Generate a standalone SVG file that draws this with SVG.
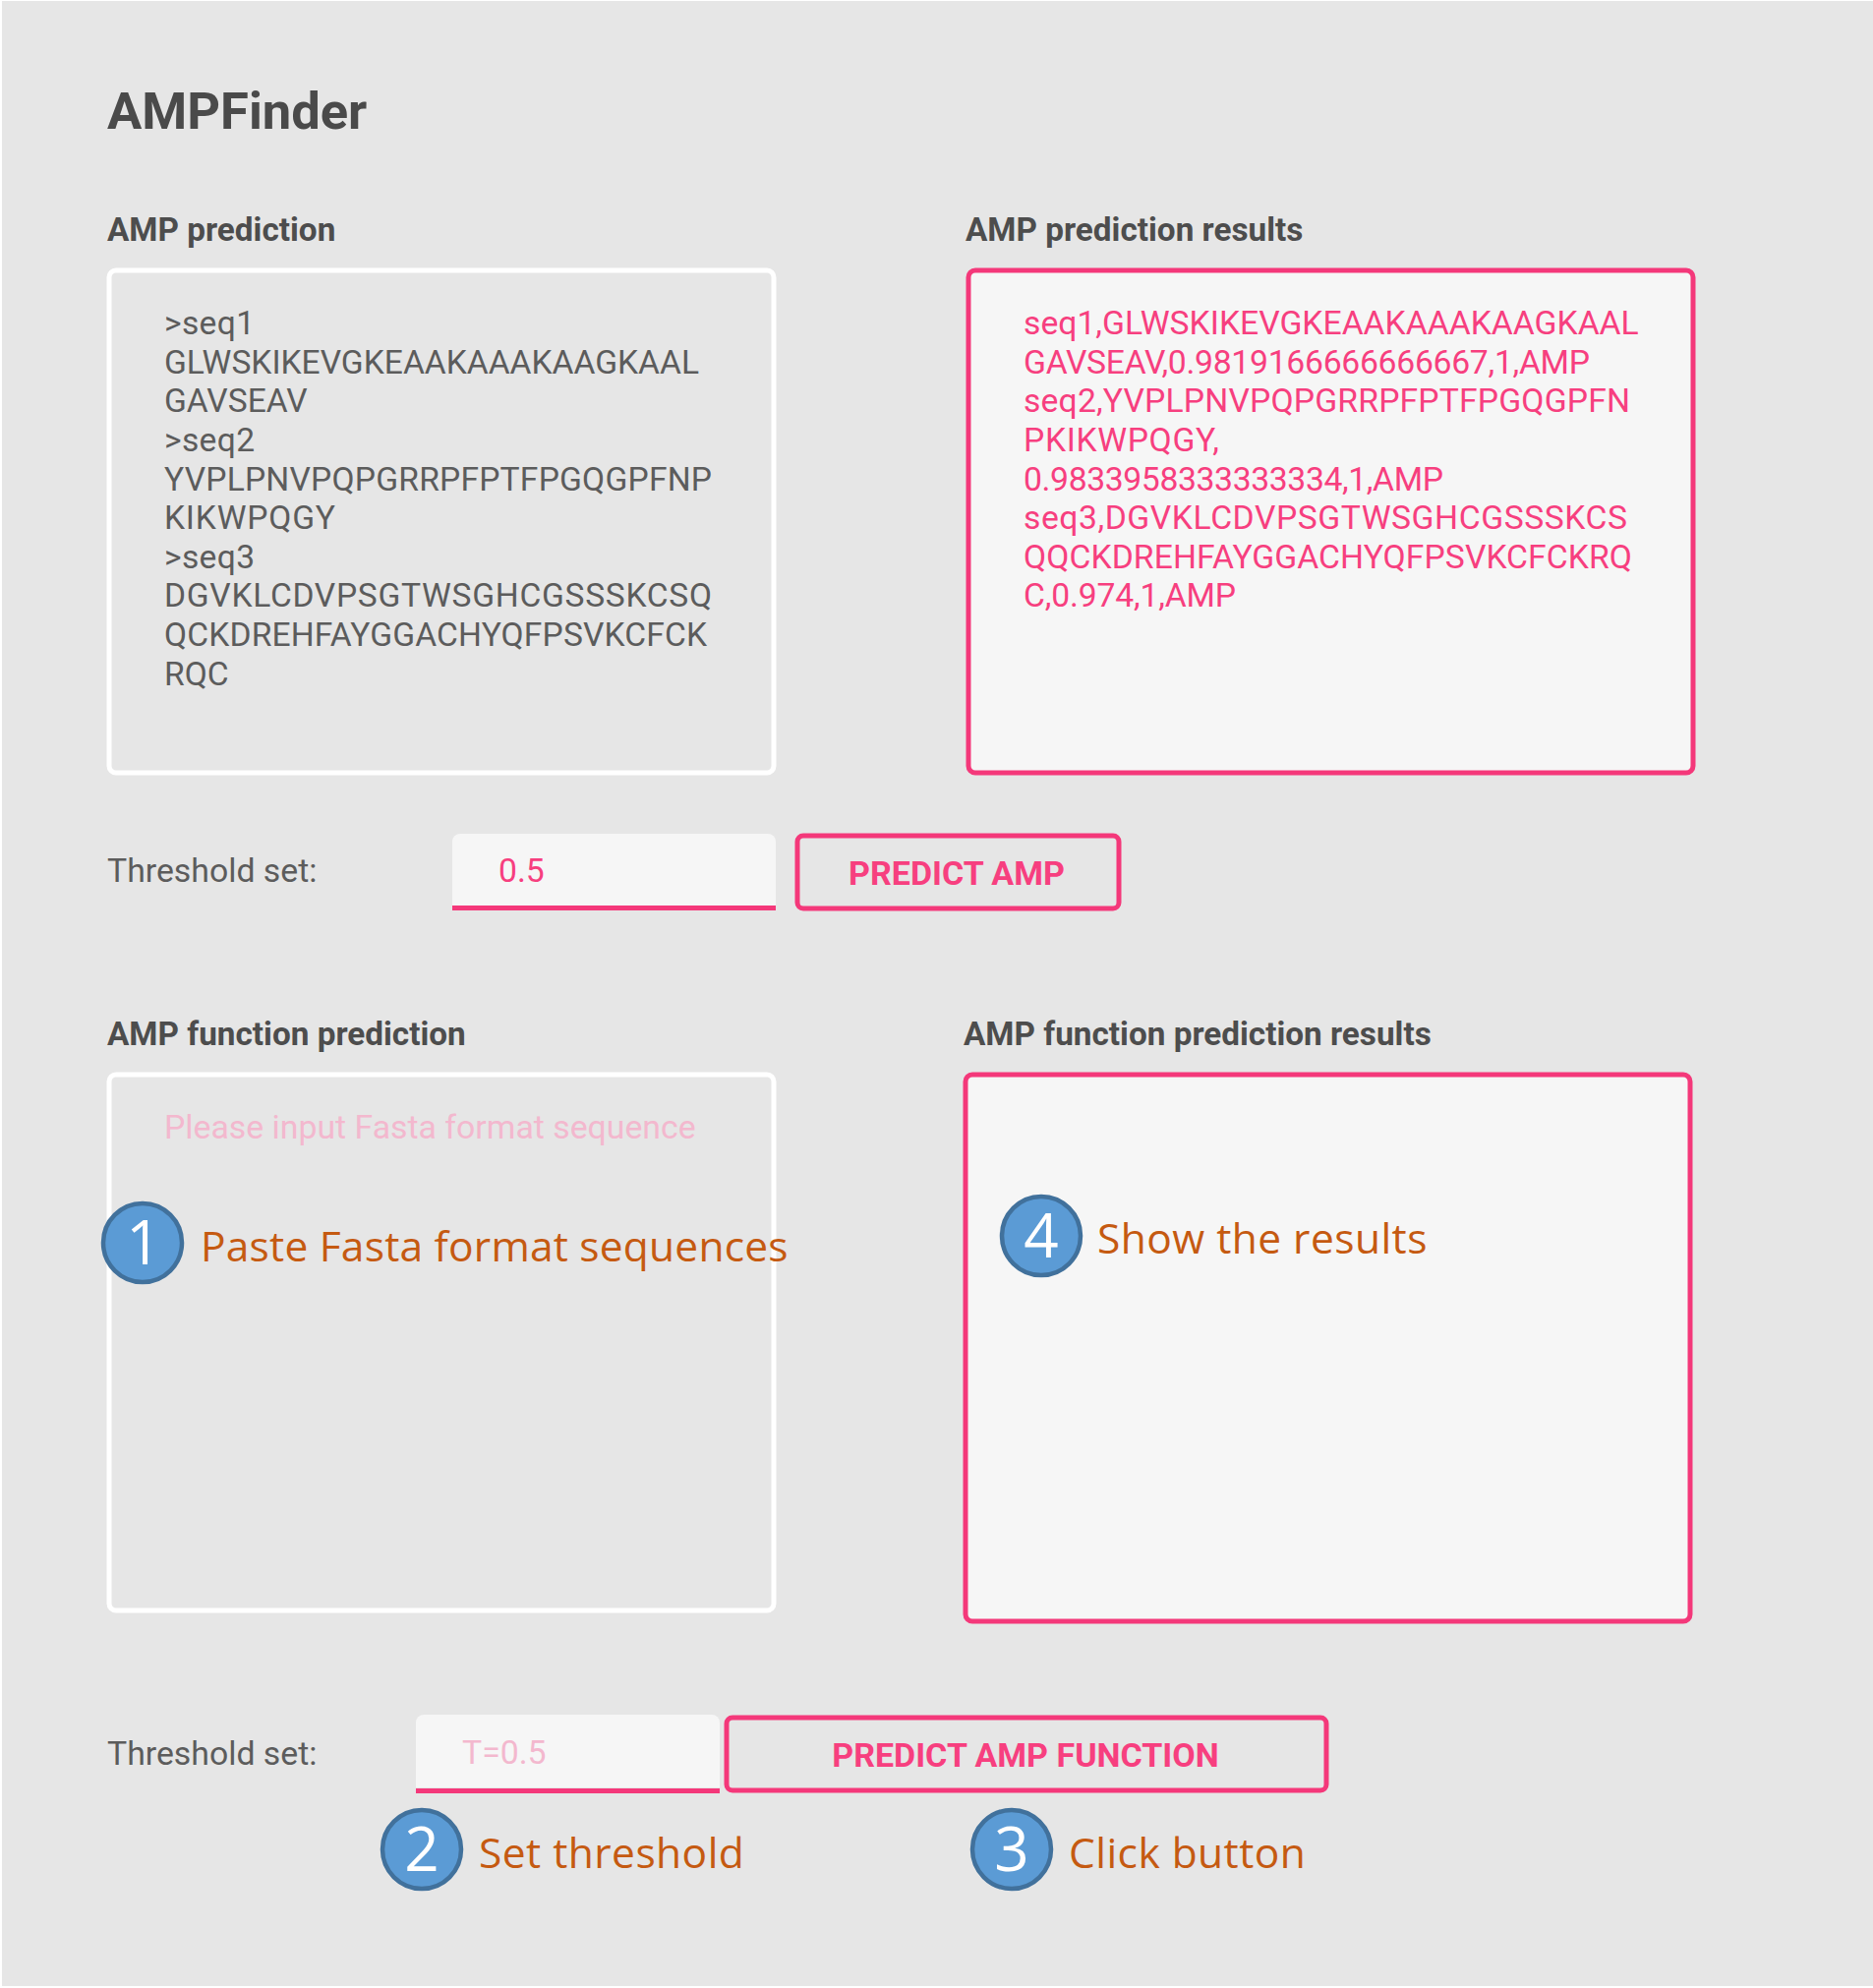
<svg xmlns="http://www.w3.org/2000/svg" width="1905" height="2022" viewBox="0 0 1905 2022">
<style>
text{font-family:Roboto,"Liberation Sans",sans-serif}
.h1{font-size:52.5px;font-weight:700;fill:#4a4a4a}
.h2{font-size:33.3px;font-weight:700;fill:#4d4d4d}
.in{font-size:33.6px;fill:#5c5c5c}
.out{font-size:33.7px;fill:#f73f7f}
.lab{font-size:33.8px;fill:#5c5c5c}
.ph{font-size:33.8px;fill:#f3b8ce}
.btn{font-size:34px;font-weight:700;fill:#f73f7f;text-anchor:middle}
.box-w{fill:none;stroke:#fff;stroke-width:5}
.box-p{fill:#f6f6f6;stroke:#f4387a;stroke-width:5}
.btn-r{fill:none;stroke:#f4387a;stroke-width:5}
.field{fill:#f6f6f6}
.under{fill:#f4387a}
.c{fill:#5b9bd5;stroke:#41719c;stroke-width:4.5}
.n{font-family:"Open Sans",sans-serif;font-size:62px;fill:#fff;text-anchor:middle}
.a{font-family:"Open Sans",sans-serif;font-size:42.5px;letter-spacing:.45px;fill:#c55a11}
</style>
<rect x="2" y="1" width="1903" height="2019" fill="#e6e6e6"/>
<g id="title"><text class="h1" x="109" y="131">AMPFinder</text></g>
<g id="amp-input">
<text class="h2" x="109" y="245">AMP prediction</text>
<rect class="box-w" x="111" y="275" width="676" height="511" rx="7"/>
<text class="in" x="167" y="340" textLength="92">&gt;seq1</text>
<text class="in" x="167" y="380">GLWSKIKEVGKEAAKAAAKAAGKAAL</text>
<text class="in" x="167" y="419">GAVSEAV</text>
<text class="in" x="167" y="459" textLength="92">&gt;seq2</text>
<text class="in" x="167" y="499" textLength="557">YVPLPNVPQPGRRPFPTFPGQGPFNP</text>
<text class="in" x="167" y="538" textLength="174">KIKWPQGY</text>
<text class="in" x="167" y="578" textLength="92">&gt;seq3</text>
<text class="in" x="167" y="617" textLength="557">DGVKLCDVPSGTWSGHCGSSSKCSQ</text>
<text class="in" x="167" y="657" textLength="552">QCKDREHFAYGGACHYQFPSVKCFCK</text>
<text class="in" x="167" y="697">RQC</text>
</g>
<g id="amp-results">
<text class="h2" x="982" y="245">AMP prediction results</text>
<rect class="box-p" x="985" y="275" width="737" height="511" rx="7"/>
<text class="out" x="1041" y="340">seq1,GLWSKIKEVGKEAAKAAAKAAGKAAL</text>
<text class="out" x="1041" y="380" textLength="576">GAVSEAV,0.9819166666666667,1,AMP</text>
<text class="out" x="1041" y="419" textLength="617">seq2,YVPLPNVPQPGRRPFPTFPGQGPFN</text>
<text class="out" x="1041" y="459" textLength="199">PKIKWPQGY,</text>
<text class="out" x="1041" y="499" textLength="427">0.9833958333333334,1,AMP</text>
<text class="out" x="1041" y="538" textLength="614">seq3,DGVKLCDVPSGTWSGHCGSSSKCS</text>
<text class="out" x="1041" y="578" textLength="619">QQCKDREHFAYGGACHYQFPSVKCFCKRQ</text>
<text class="out" x="1041" y="617" textLength="216">C,0.974,1,AMP</text>
</g>
<g id="threshold-1">
<text class="lab" x="109" y="897">Threshold set:</text>
<path class="field" d="M460 856a8 8 0 0 1 8-8h313a8 8 0 0 1 8 8v66H460z"/>
<rect class="under" x="460" y="921" width="329" height="5"/>
<text class="out" x="507" y="897">0.5</text>
</g>
<g id="predict-amp">
<rect class="btn-r" x="811" y="850" width="327" height="74" rx="6"/>
<text class="btn" x="973" y="900">PREDICT AMP</text>
</g>
<g id="function-input">
<text class="h2" x="109" y="1063">AMP function prediction</text>
<rect class="box-w" x="111" y="1093" width="676" height="545" rx="7"/>
<text class="ph" x="167" y="1158">Please input Fasta format sequence</text>
</g>
<g id="function-results">
<text class="h2" x="980" y="1063">AMP function prediction results</text>
<rect class="box-p" x="982" y="1093" width="737" height="556" rx="7"/>
</g>
<g id="threshold-2">
<text class="lab" x="109" y="1795">Threshold set:</text>
<path class="field" d="M423 1752a8 8 0 0 1 8-8h293a8 8 0 0 1 8 8v66H423z"/>
<rect class="under" x="423" y="1819" width="309" height="5"/>
<text class="ph" x="470" y="1794">T=0.5</text>
</g>
<g id="predict-function">
<rect class="btn-r" x="739" y="1747" width="610" height="74" rx="6"/>
<text class="btn" x="1043" y="1797">PREDICT AMP FUNCTION</text>
</g>
<g id="step-1">
<circle class="c" cx="145" cy="1264" r="40"/>
<text class="n" x="146" y="1286">1</text>
<text class="a" x="204" y="1283" textLength="598">Paste Fasta format sequences</text>
</g>
<g id="step-2">
<circle class="c" cx="429" cy="1881" r="40"/>
<text class="n" x="429" y="1903">2</text>
<text class="a" x="487" y="1900">Set threshold</text>
</g>
<g id="step-3">
<circle class="c" cx="1029" cy="1881" r="40"/>
<text class="n" x="1029" y="1903">3</text>
<text class="a" x="1087" y="1900">Click button</text>
</g>
<g id="step-4">
<circle class="c" cx="1059" cy="1257" r="40"/>
<text class="n" x="1059" y="1279">4</text>
<text class="a" x="1116" y="1275">Show the results</text>
</g>
</svg>
